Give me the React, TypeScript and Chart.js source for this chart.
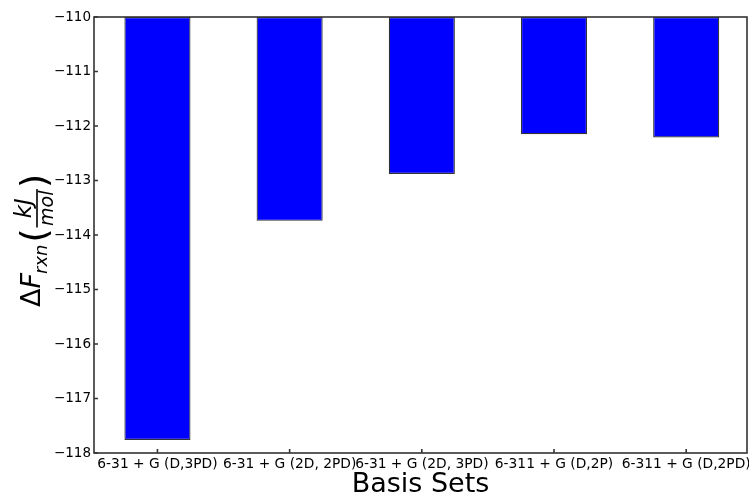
import React, { useEffect, useRef } from "react";
import { Chart, registerables } from "chart.js";

Chart.register(...registerables);

const categories = [
  "6-31 + G (D,3PD)",
  "6-31 + G (2D, 2PD)",
  "6-31 + G (2D, 3PD)",
  "6-311 + G (D,2P)",
  "6-311 + G (D,2PD)",
];
const energies = [-117.76, -113.74, -112.88, -112.15, -112.21];
const baseline = -110;
const yMin = -118;
const yMax = -110;
const xMin = -0.48;
const xMax = 4.46;

const FONT = "'DejaVu Sans', sans-serif";

const frameAndTicks = {
  id: "frameAndTicks",
  afterDatasetsDraw(chart: any) {
    const { ctx, chartArea } = chart;
    const { left, right, top, bottom } = chartArea;
    const xs = chart.scales.x;
    const ys = chart.scales.y;
    ctx.save();
    ctx.strokeStyle = "#333";
    ctx.lineWidth = 1.6;
    ctx.strokeRect(left, top, right - left, bottom - top);
    ctx.beginPath();
    ys.ticks.forEach((t: any) => {
      const y = ys.getPixelForValue(t.value);
      ctx.moveTo(left, y);
      ctx.lineTo(left + 4, y);
    });
    xs.ticks.forEach((t: any) => {
      const x = xs.getPixelForValue(t.value);
      ctx.moveTo(x, bottom);
      ctx.lineTo(x, bottom - 4);
    });
    ctx.stroke();
    ctx.restore();
  },
};

const yTitle = {
  id: "yTitle",
  afterDraw(chart: any) {
    const { ctx } = chart;
    ctx.save();
    ctx.translate(40, 307);
    ctx.rotate(-Math.PI / 2);
    ctx.fillStyle = "#000";
    ctx.textBaseline = "alphabetic";
    ctx.textAlign = "left";
    let u = 0;
    ctx.font = `27px ${FONT}`;
    ctx.fillText("Δ", u, 0);
    u += ctx.measureText("Δ").width;
    ctx.font = `italic 27px ${FONT}`;
    ctx.fillText("F", u, 0);
    u += ctx.measureText("F").width - 1;
    ctx.font = `italic 18px ${FONT}`;
    ctx.fillText("rxn", u, 7);
    u += ctx.measureText("rxn").width + 2;
    ctx.font = `36px ${FONT}`;
    ctx.fillText("(", u, 6);
    u += ctx.measureText("(").width + 1;
    ctx.font = `italic 23px ${FONT}`;
    const wK = ctx.measureText("kJ").width;
    ctx.font = `italic 19px ${FONT}`;
    const wM = ctx.measureText("mol").width;
    const wF = Math.max(wK, wM) + 3;
    const c = u + wF / 2;
    ctx.textAlign = "center";
    ctx.font = `italic 23px ${FONT}`;
    ctx.fillText("kJ", c, -9);
    ctx.font = `italic 19px ${FONT}`;
    ctx.fillText("mol", c, 13);
    ctx.fillRect(u, -3.8, wF, 1.6);
    u += wF + 1;
    ctx.textAlign = "left";
    ctx.font = `36px ${FONT}`;
    ctx.fillText(")", u, 6);
    ctx.restore();
  },
};

export default function App() {
  const ref = useRef<HTMLCanvasElement>(null);
  useEffect(() => {
    const chart = new Chart(ref.current as HTMLCanvasElement, {
      type: "bar",
      data: {
        datasets: [
          {
            data: energies.map((v, i) => ({ x: i, y: [baseline, v] })) as any,
            backgroundColor: "#0000ff",
            borderColor: "#333",
            borderWidth: 1.2,
            borderSkipped: false,
            barPercentage: 0.5,
            categoryPercentage: 1,
          },
        ],
      },
      options: {
        animation: false,
        responsive: false,
        layout: { padding: { top: 17, right: 2, left: 0, bottom: 0 } },
        plugins: { legend: { display: false }, tooltip: { enabled: false } },
        scales: {
          x: {
            type: "linear",
            min: xMin,
            max: xMax,
            offset: false,
            grid: { display: false, drawTicks: false },
            border: { display: false },
            afterBuildTicks: (s: any) => {
              s.ticks = categories.map((_, i) => ({ value: i }));
            },
            ticks: {
              color: "#000",
              font: { family: FONT, size: 13.8 },
              padding: 3,
              maxRotation: 0,
              minRotation: 0,
              autoSkip: false,
              callback: (v: any) => categories[Math.round(v)] ?? "",
            },
            title: {
              display: true,
              text: "Basis Sets",
              color: "#000",
              font: { family: FONT, size: 27, lineHeight: 0.78 },
              padding: { top: 0, bottom: 0 },
            },
            afterFit: (s: any) => {
              s.height = 43;
              s.paddingLeft = 0;
              s.paddingRight = 0;
            },
          },
          y: {
            min: yMin,
            max: yMax,
            grid: { display: false, drawTicks: false },
            border: { display: false },
            ticks: {
              stepSize: 1,
              color: "#000",
              font: { family: FONT, size: 13.5 },
              padding: 3,
              callback: (v: any) => (v < 0 ? "\u2212" + Math.abs(v) : String(v)),
            },
            afterFit: (s: any) => {
              s.width = 94;
              s.paddingTop = 0;
              s.paddingBottom = 0;
            },
          },
        },
      } as any,
      plugins: [frameAndTicks, yTitle],
    });
    return () => chart.destroy();
  }, []);
  return (
    <div style={{ position: "fixed", left: 0, top: 0, width: 749, height: 496, background: "#fff" }}>
      <canvas ref={ref} width={749} height={496} />
    </div>
  );
}
